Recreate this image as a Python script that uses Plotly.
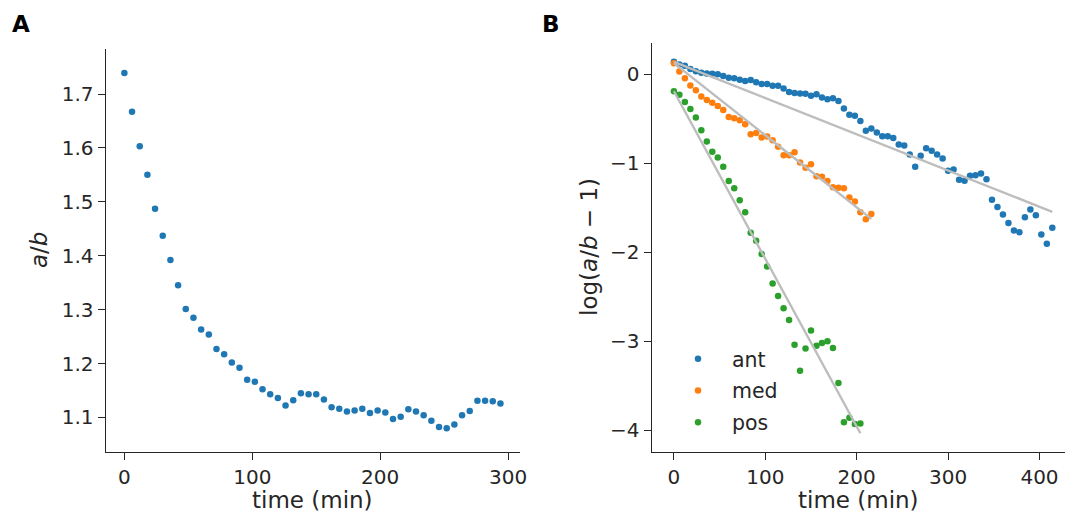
import numpy as np
import plotly.graph_objects as go

W, H = 1067, 515

# ---------------- data ----------------
step_min = 6
ratio_ab = [1.739, 1.667, 1.603, 1.550, 1.487, 1.437, 1.392, 1.345, 1.301, 1.285,
            1.263, 1.254, 1.227, 1.217, 1.202, 1.192, 1.170, 1.166, 1.152, 1.143,
            1.136, 1.122, 1.132, 1.145, 1.143, 1.143, 1.133, 1.119, 1.116, 1.111,
            1.113, 1.116, 1.108, 1.113, 1.109, 1.097, 1.101, 1.115, 1.111, 1.104,
            1.094, 1.082, 1.080, 1.087, 1.104, 1.112, 1.131, 1.131, 1.130, 1.126]

log_ant = [0.14, 0.11, 0.095, 0.06, 0.035, 0.018, 0.01, 0.005, 0.0, -0.02,
           -0.04, -0.045, -0.06, -0.075, -0.065, -0.09, -0.11, -0.11, -0.13, -0.13,
           -0.16, -0.2, -0.21, -0.215, -0.22, -0.24, -0.225, -0.26, -0.28, -0.27,
           -0.3, -0.385, -0.455, -0.465, -0.525, -0.635, -0.61, -0.655, -0.695, -0.695,
           -0.715, -0.79, -0.8, -0.9, -1.04, -0.915, -0.83, -0.86, -0.9, -0.945,
           -1.085, -1.07, -1.185, -1.195, -1.14, -1.135, -1.115, -1.18, -1.41, -1.49,
           -1.575, -1.67, -1.755, -1.775, -1.605, -1.52, -1.585, -1.8, -1.905, -1.725]

log_med = [0.125, 0.03, -0.045, -0.125, -0.18, -0.25, -0.29, -0.32, -0.355, -0.4,
           -0.48, -0.495, -0.515, -0.56, -0.675, -0.66, -0.71, -0.7, -0.74, -0.815,
           -0.91, -0.91, -0.875, -0.99, -1.05, -1.01, -1.145, -1.15, -1.2, -1.27,
           -1.275, -1.28, -1.385, -1.43, -1.55, -1.63, -1.57]

log_pos = [-0.19, -0.23, -0.31, -0.39, -0.485, -0.63, -0.755, -0.87, -0.935, -1.04,
           -1.2, -1.28, -1.415, -1.55, -1.78, -1.87, -2.02, -2.16, -2.35, -2.49,
           -2.63, -2.76, -3.04, -3.33, -3.08, -2.88, -3.05, -3.02, -3.0, -3.075,
           -3.47, -3.91, -3.86, -3.93, -3.925]

series_names = ["ant", "med", "pos"]
series_values = [log_ant, log_med, log_pos]
fit_rates = [-0.00407, -0.0081, -0.01884]   # slope of fitted line (per min)
series_colors = ["#1f77b4", "#ff7f0e", "#2ca02c"]

xticks_a = [0, 100, 200, 300]
yticks_a = [1.1, 1.2, 1.3, 1.4, 1.5, 1.6, 1.7]
xticks_b = [0, 100, 200, 300, 400]
yticks_b = [0, -1, -2, -3, -4]

# ---------------- layout helpers ----------------
def px_x(p):
    return p / W

def px_y(p):
    return 1 - p / H

INK = "#262626"
FONT = "DejaVu Sans"
LABEL_SIZE = 23

fig = go.Figure()

t_a = np.arange(len(ratio_ab)) * step_min
fig.add_trace(go.Scatter(x=t_a, y=ratio_ab, mode="markers", xaxis="x", yaxis="y",
                         marker=dict(color=series_colors[0], size=6.5, line=dict(width=0)),
                         showlegend=False))

for name, vals, col in zip(series_names, series_values, series_colors):
    t = np.arange(len(vals)) * step_min
    fig.add_trace(go.Scatter(x=t, y=vals, mode="markers", xaxis="x2", yaxis="y2", name=name,
                             legendgroup=name,
                             marker=dict(color=col, size=6.5, line=dict(width=0))))

for name, vals, rate in zip(series_names, series_values, fit_rates):
    t = np.arange(len(vals)) * step_min
    tl = np.array([t[0], t[-1]])
    fig.add_trace(go.Scatter(x=tl, y=vals[0] + rate * tl, mode="lines", xaxis="x2", yaxis="y2",
                             line=dict(color="#bdbdbd", width=2.4), showlegend=False,
                             hoverinfo="skip"))

axis_common = dict(showline=True, linecolor=INK, linewidth=1.3, ticks="outside",
                   ticklen=7, tickwidth=1.3, tickcolor=INK, showgrid=False, zeroline=False,
                   tickfont=dict(family=FONT, size=20, color=INK), automargin=False)

fig.update_layout(
    width=W, height=H,
    margin=dict(l=0, r=0, t=0, b=0),
    paper_bgcolor="white", plot_bgcolor="white",
    font=dict(family=FONT, size=20, color=INK),
    xaxis=dict(domain=[px_x(105.7), px_x(520)], range=[-14.6, 309.3], tickvals=xticks_a,
               anchor="y", **axis_common),
    yaxis=dict(domain=[px_y(452), px_y(49.3)], range=[1.0358, 1.783], tickvals=yticks_a,
               tickformat=".1f", anchor="x", **axis_common),
    xaxis2=dict(domain=[px_x(651.7), px_x(1065)], range=[-24.3, 427.9], tickvals=xticks_b,
                anchor="y2", **axis_common),
    yaxis2=dict(domain=[px_y(452), px_y(42.7)], range=[-4.244, 0.355], tickvals=yticks_b,
                anchor="x2", **axis_common),
    legend=dict(x=px_x(664), y=px_y(339), xanchor="left", yanchor="top",
                bgcolor="rgba(0,0,0,0)", font=dict(family=FONT, size=20.5, color=INK),
                tracegroupgap=2, itemwidth=58),
    annotations=[
        dict(text="<b>A</b>", x=px_x(10), y=px_y(24), xref="paper", yref="paper",
             xanchor="left", yanchor="middle", showarrow=False,
             font=dict(family=FONT, size=23, color="black")),
        dict(text="<b>B</b>", x=px_x(540), y=px_y(24), xref="paper", yref="paper",
             xanchor="left", yanchor="middle", showarrow=False,
             font=dict(family=FONT, size=23, color="black")),
        dict(text="time (min)", x=px_x(312.5), y=px_y(500), xref="paper", yref="paper",
             xanchor="center", yanchor="middle", showarrow=False,
             font=dict(family=FONT, size=LABEL_SIZE, color=INK)),
        dict(text="time (min)", x=px_x(858.3), y=px_y(500), xref="paper", yref="paper",
             xanchor="center", yanchor="middle", showarrow=False,
             font=dict(family=FONT, size=LABEL_SIZE, color=INK)),
        dict(text="<i>a</i>/<i>b</i>", x=px_x(39), y=px_y(250), xref="paper", yref="paper",
             xanchor="center", yanchor="middle", textangle=-90, showarrow=False,
             font=dict(family=FONT, size=LABEL_SIZE, color=INK)),
        dict(text="log(<i>a</i>/<i>b</i> − 1)", x=px_x(589), y=px_y(247), xref="paper",
             yref="paper", xanchor="center", yanchor="middle", textangle=-90, showarrow=False,
             font=dict(family=FONT, size=LABEL_SIZE, color=INK)),
    ],
)

fig.write_html("out.html", config={"displayModeBar": False},
               post_script="document.body.style.margin='0';document.body.style.overflow='hidden';")
